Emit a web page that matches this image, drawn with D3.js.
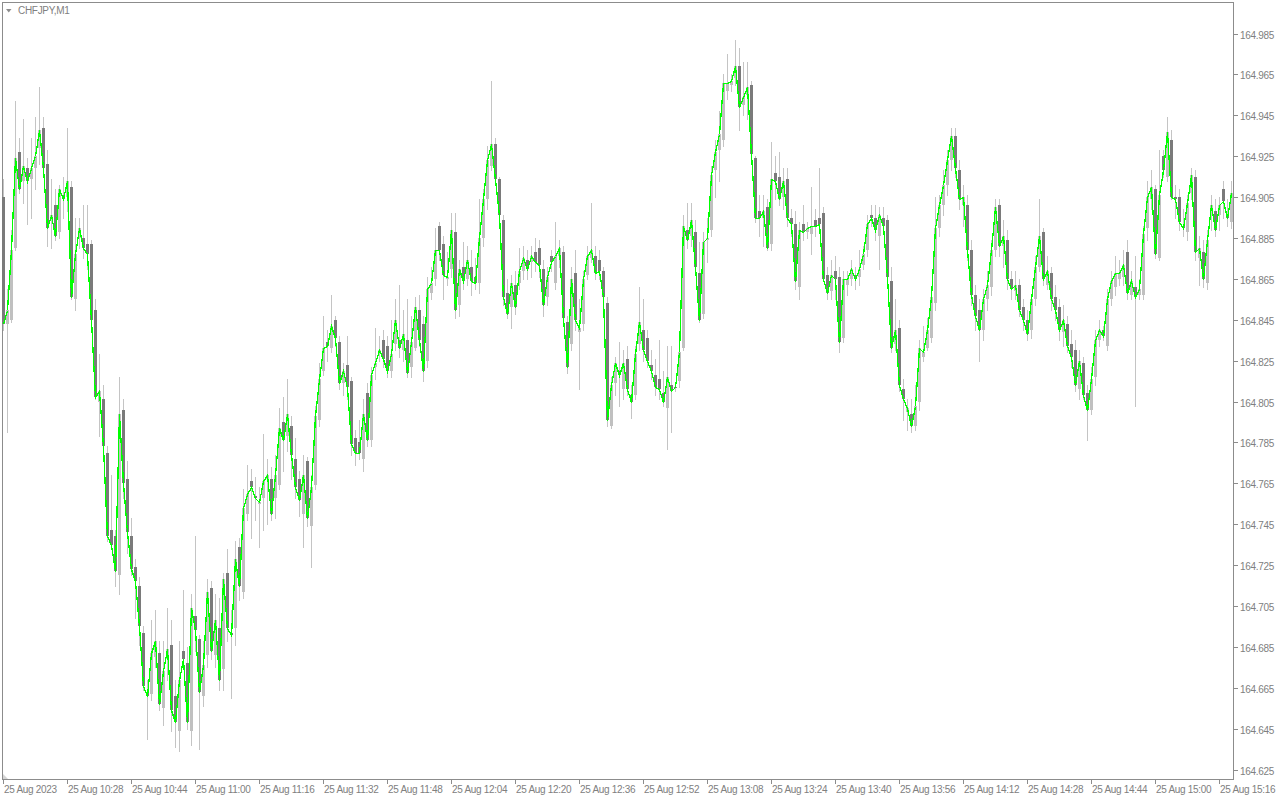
<!DOCTYPE html>
<html><head><meta charset="utf-8">
<script src="https://cdn.jsdelivr.net/npm/d3@7"></script>
<style>html,body{margin:0;padding:0;background:#fff;}svg{display:block;}</style>
</head><body>
<svg id="chart" width="1280" height="800"></svg>
<script>
const chartTitle = "CHFJPY,M1";
const timeLabels = ["25 Aug 2023","25 Aug 10:28","25 Aug 10:44","25 Aug 11:00","25 Aug 11:16","25 Aug 11:32","25 Aug 11:48","25 Aug 12:04","25 Aug 12:20","25 Aug 12:36","25 Aug 12:52","25 Aug 13:08","25 Aug 13:24","25 Aug 13:40","25 Aug 13:56","25 Aug 14:12","25 Aug 14:28","25 Aug 14:44","25 Aug 15:00","25 Aug 15:16"];
const labelEvery = 16;
const priceTicks = [164.985,164.965,164.945,164.925,164.905,164.885,164.865,164.845,164.825,164.805,164.785,164.765,164.745,164.725,164.705,164.685,164.665,164.645,164.625];

const open = [
164.905,164.843,164.845,164.880,164.927,164.913,164.919,164.914,164.919,164.929,164.939,164.921,164.894,164.901,164.888,164.906,164.905,164.910,164.855,164.885,
164.885,164.882,164.882,164.850,164.805,164.806,164.780,164.742,164.739,164.720,164.801,164.767,164.739,164.724,164.715,164.692,164.663,164.662,164.680,164.682,
164.655,164.679,164.686,164.661,164.644,164.683,164.677,164.644,164.700,164.689,164.661,164.681,164.714,164.681,164.694,164.674,164.721,164.692,164.694,164.734,
164.712,164.750,164.766,164.759,164.755,164.758,164.767,164.767,164.758,164.764,164.795,164.788,164.793,164.777,164.767,164.750,164.776,164.744,164.764,164.796,
164.820,164.834,164.831,164.845,164.834,164.814,164.823,164.815,164.787,164.785,164.777,164.809,164.786,164.822,164.829,164.835,164.832,164.820,164.833,164.835,
164.830,164.835,164.822,164.831,164.850,164.843,164.825,164.858,164.865,164.891,164.882,164.865,164.870,164.888,164.852,164.871,164.865,164.871,164.866,164.863,
164.885,164.904,164.920,164.931,164.914,164.894,164.858,164.851,164.862,164.863,164.869,164.874,164.873,164.878,164.880,164.870,164.856,164.876,164.863,164.876,
164.878,164.844,164.833,164.868,164.839,164.843,164.867,164.875,164.876,164.874,164.869,164.853,164.793,164.814,164.820,164.811,164.826,164.808,164.808,164.833,
164.840,164.836,164.823,164.818,164.816,164.809,164.802,164.813,164.812,164.815,164.831,164.889,164.886,164.888,164.868,164.848,164.884,164.889,164.918,164.928,
164.933,164.957,164.960,164.963,164.969,164.950,164.955,164.960,164.924,164.898,164.895,164.900,164.882,164.917,164.915,164.905,164.914,164.895,164.892,164.861,
164.892,164.888,164.887,164.894,164.895,164.897,164.867,164.859,164.869,164.866,164.836,164.862,164.865,164.867,164.866,164.872,164.879,164.896,164.895,164.886,
164.895,164.894,164.864,164.833,164.841,164.811,164.800,164.799,164.793,164.805,164.827,164.831,164.836,164.853,164.890,164.901,164.911,164.923,164.935,164.918,
164.901,164.901,164.879,164.857,164.850,164.840,164.855,164.861,164.879,164.901,164.881,164.884,164.865,164.859,164.862,164.851,164.845,164.840,164.855,164.871,
164.888,164.862,164.868,164.856,164.851,164.839,164.843,164.833,164.830,164.811,164.824,164.809,164.801,164.817,164.835,164.840,164.832,164.855,164.861,164.865,
164.866,164.878,164.857,164.861,164.857,164.857,164.890,164.904,164.909,164.875,164.925,164.915,164.933,164.905,164.905,164.891,164.888,164.907,164.915,164.875,
164.878,164.863,164.898,164.898,164.896,164.909,164.896,164.893];

const high = [
164.914,164.860,164.889,164.952,164.934,164.943,164.924,164.934,164.944,164.959,164.944,164.928,164.914,164.909,164.911,164.915,164.939,164.913,164.895,164.895,
164.901,164.901,164.884,164.855,164.828,164.813,164.783,164.769,164.742,164.817,164.806,164.776,164.748,164.728,164.719,164.695,164.669,164.698,164.703,164.688,
164.688,164.704,164.698,164.669,164.688,164.713,164.685,164.711,164.739,164.691,164.688,164.718,164.717,164.711,164.709,164.721,164.733,164.703,164.737,164.738,
164.762,164.774,164.772,164.768,164.763,164.789,164.777,164.773,164.779,164.802,164.807,164.816,164.798,164.787,164.771,164.779,164.778,164.769,164.803,164.824,
164.847,164.840,164.857,164.847,164.837,164.824,164.837,164.817,164.791,164.796,164.806,164.814,164.822,164.841,164.837,164.840,164.837,164.845,164.855,164.862,
164.850,164.855,164.847,164.856,164.857,164.847,164.866,164.871,164.890,164.893,164.886,164.878,164.897,164.897,164.874,164.883,164.881,164.879,164.875,164.904,
164.909,164.930,164.962,164.934,164.915,164.896,164.865,164.867,164.869,164.880,164.881,164.879,164.881,164.885,164.884,164.874,164.871,164.879,164.893,164.884,
164.881,164.847,164.871,164.879,164.855,164.869,164.881,164.902,164.881,164.879,164.871,164.856,164.817,164.827,164.834,164.830,164.832,164.813,164.832,164.861,
164.855,164.840,164.830,164.826,164.835,164.820,164.832,164.832,164.814,164.834,164.896,164.902,164.902,164.894,164.883,164.888,164.895,164.920,164.933,164.947,
164.965,164.975,164.965,164.982,164.978,164.971,164.971,164.962,164.925,164.906,164.906,164.904,164.932,164.925,164.927,164.919,164.919,164.899,164.898,164.893,
164.901,164.893,164.910,164.899,164.919,164.900,164.871,164.874,164.876,164.871,164.869,164.869,164.874,164.871,164.879,164.881,164.896,164.901,164.901,164.900,
164.900,164.896,164.871,164.855,164.845,164.816,164.806,164.806,164.813,164.835,164.842,164.846,164.860,164.905,164.906,164.918,164.928,164.939,164.939,164.923,
164.911,164.906,164.884,164.862,164.855,164.860,164.869,164.884,164.904,164.904,164.894,164.889,164.869,164.869,164.865,164.855,164.850,164.857,164.876,164.904,
164.890,164.876,164.871,164.862,164.855,164.852,164.847,164.840,164.835,164.830,164.827,164.813,164.822,164.840,164.845,164.842,164.860,164.869,164.876,164.874,
164.879,164.884,164.869,164.876,164.865,164.891,164.913,164.918,164.911,164.928,164.928,164.944,164.938,164.911,164.909,164.899,164.906,164.919,164.918,164.886,
164.884,164.889,164.906,164.904,164.905,164.913,164.904,164.913];

const low = [
164.840,164.790,164.844,164.879,164.907,164.902,164.892,164.895,164.909,164.921,164.916,164.881,164.880,164.884,164.885,164.895,164.898,164.855,164.850,164.880,
164.875,164.870,164.843,164.806,164.788,164.781,164.737,164.734,164.715,164.711,164.758,164.731,164.720,164.699,164.686,164.664,164.640,164.659,164.675,164.654,
164.647,164.669,164.644,164.636,164.634,164.674,164.645,164.637,164.683,164.635,164.656,164.675,164.679,164.675,164.664,164.664,164.688,164.660,164.686,164.708,
164.709,164.747,164.738,164.747,164.734,164.742,164.745,164.747,164.748,164.762,164.771,164.781,164.767,164.758,164.749,164.734,164.744,164.724,164.762,164.793,
164.818,164.825,164.829,164.832,164.811,164.808,164.806,164.779,164.774,164.777,164.771,164.783,164.783,164.816,164.825,164.822,164.817,164.817,164.830,164.827,
164.825,164.817,164.817,164.830,164.832,164.815,164.822,164.855,164.862,164.874,164.855,164.862,164.866,164.846,164.847,164.860,164.862,164.857,164.860,164.858,
164.881,164.899,164.918,164.911,164.894,164.852,164.846,164.841,164.848,164.860,164.865,164.865,164.866,164.869,164.866,164.847,164.852,164.869,164.860,164.871,
164.842,164.819,164.830,164.840,164.811,164.840,164.865,164.873,164.865,164.865,164.852,164.793,164.792,164.808,164.803,164.806,164.808,164.797,164.806,164.830,
164.825,164.822,164.816,164.808,164.806,164.803,164.782,164.790,164.810,164.812,164.830,164.880,164.881,164.868,164.844,164.846,164.873,164.886,164.905,164.913,
164.930,164.953,164.957,164.960,164.938,164.945,164.943,164.925,164.893,164.886,164.881,164.879,164.879,164.904,164.901,164.899,164.891,164.886,164.860,164.855,
164.884,164.885,164.877,164.886,164.889,164.864,164.855,164.855,164.855,164.829,164.834,164.857,164.862,164.860,164.862,164.870,164.876,164.891,164.884,164.870,
164.889,164.865,164.829,164.830,164.810,164.796,164.791,164.790,164.791,164.801,164.825,164.830,164.834,164.850,164.886,164.896,164.906,164.918,164.915,164.899,
164.891,164.874,164.852,164.840,164.825,164.835,164.850,164.857,164.876,164.876,164.871,164.860,164.855,164.855,164.847,164.840,164.835,164.836,164.852,164.869,
164.862,164.860,164.850,164.845,164.835,164.832,164.829,164.822,164.810,164.806,164.806,164.786,164.799,164.813,164.832,164.835,164.830,164.852,164.857,164.862,
164.862,164.855,164.855,164.803,164.855,164.855,164.884,164.899,164.875,164.874,164.915,164.913,164.904,164.895,164.889,164.886,164.884,164.904,164.874,164.862,
164.861,164.860,164.889,164.886,164.889,164.895,164.891,164.890];

const close = [
164.843,164.850,164.879,164.924,164.909,164.920,164.913,164.919,164.925,164.938,164.919,164.890,164.896,164.886,164.909,164.904,164.913,164.856,164.877,164.890,
164.880,164.877,164.845,164.807,164.810,164.783,164.739,164.735,164.722,164.799,164.765,164.741,164.723,164.717,164.695,164.666,164.661,164.682,164.688,164.657,
164.673,164.684,164.654,164.648,164.669,164.679,164.648,164.704,164.693,164.663,164.676,164.712,164.683,164.698,164.669,164.718,164.694,164.691,164.728,164.715,
164.753,164.760,164.763,164.758,164.756,164.766,164.769,164.750,164.769,164.792,164.786,164.799,164.779,164.763,164.757,164.769,164.748,164.763,164.798,164.816,
164.831,164.832,164.842,164.836,164.814,164.820,164.812,164.784,164.780,164.780,164.799,164.786,164.818,164.824,164.830,164.826,164.820,164.828,164.845,164.831,
164.838,164.819,164.834,164.851,164.835,164.820,164.860,164.863,164.879,164.879,164.867,164.866,164.889,164.850,164.870,164.864,164.874,164.864,164.863,164.885,
164.904,164.923,164.931,164.914,164.896,164.856,164.848,164.863,164.851,164.869,164.875,164.870,164.876,164.873,164.872,164.852,164.866,164.873,164.876,164.880,
164.846,164.822,164.865,164.845,164.841,164.865,164.876,164.879,164.868,164.869,164.856,164.796,164.813,164.824,164.818,164.824,164.811,164.805,164.828,164.844,
164.830,164.825,164.820,164.812,164.811,164.805,164.817,164.810,164.812,164.829,164.891,164.884,164.894,164.871,164.845,164.883,164.885,164.916,164.927,164.936,
164.961,164.961,164.962,164.969,164.949,164.954,164.959,164.926,164.895,164.895,164.898,164.880,164.914,164.913,164.904,164.913,164.895,164.892,164.864,164.889,
164.888,164.890,164.891,164.891,164.892,164.865,164.858,164.867,164.865,164.834,164.865,164.865,164.870,164.865,164.870,164.877,164.892,164.895,164.889,164.896,
164.891,164.866,164.831,164.840,164.813,164.806,164.802,164.793,164.803,164.831,164.829,164.840,164.856,164.890,164.901,164.911,164.923,164.935,164.919,164.904,
164.905,164.879,164.857,164.847,164.840,164.855,164.862,164.879,164.900,164.881,164.886,164.865,164.860,164.862,164.850,164.845,164.838,164.855,164.871,164.886,
164.865,164.869,164.855,164.850,164.840,164.845,164.832,164.827,164.813,164.825,164.808,164.801,164.816,164.835,164.840,164.837,164.855,164.864,164.868,164.868,
164.872,164.858,164.864,164.856,164.860,164.887,164.905,164.910,164.877,164.906,164.918,164.937,164.905,164.904,164.893,164.890,164.902,164.916,164.878,164.880,
164.865,164.884,164.901,164.889,164.901,164.903,164.895,164.907];

const svg = d3.select("#chart");
const W = 1280, H = 800;
const frame = {left: 2.5, top: 2.5, right: 1233.5, bottom: 779.5};
const axisColor = "#8c8c8c";
const textColor = "#808080";
const bullColor = "#c0c0c0";
const bearColor = "#7a7a7a";
const wickColor = "#c4c4c4";
const lineColor = "#00ff00";
const font = "'Liberation Sans', Arial, sans-serif";

const n = close.length;
const x = d3.scaleLinear().domain([0, 307]).range([3, 1231]);
const y = d3.scaleLinear().domain([164.625, 164.985]).range([769.5, 33.5]);

svg.append("rect").attr("width", W).attr("height", H).attr("fill", "#fff");

// frame
svg.append("rect")
  .attr("x", frame.left).attr("y", frame.top)
  .attr("width", frame.right - frame.left).attr("height", frame.bottom - frame.top)
  .attr("fill", "none").attr("stroke", axisColor).attr("stroke-width", 1)
  .attr("shape-rendering", "crispEdges");

// corner mark
svg.append("path").attr("d", "M3,774L3,779L8,779Z").attr("fill", "#d4d4d4");

const idx = d3.range(n);
const g = svg.append("g").attr("shape-rendering", "crispEdges");

// wicks
g.selectAll("line.wick").data(idx).join("line")
  .attr("class", "wick")
  .attr("x1", i => x(i) + 0.5).attr("x2", i => x(i) + 0.5)
  .attr("y1", i => Math.round(y(high[i])))
  .attr("y2", i => Math.round(y(low[i])) + 1)
  .attr("stroke", wickColor).attr("stroke-width", 1);

// bodies
g.selectAll("rect.body").data(idx).join("rect")
  .attr("class", "body")
  .attr("x", i => x(i) - 1)
  .attr("width", 3)
  .attr("y", i => Math.round(y(Math.max(open[i], close[i]))))
  .attr("height", i => Math.max(1, Math.round(y(Math.min(open[i], close[i]))) - Math.round(y(Math.max(open[i], close[i])))))
  .attr("fill", i => close[i] > open[i] ? bullColor : bearColor);

// green line
const line = d3.line().x(i => x(i) + 0.5).y(i => Math.round(y(close[i])) + 0.5);
svg.append("path").datum(idx)
  .attr("d", line)
  .attr("fill", "none").attr("stroke", lineColor).attr("stroke-width", 1.3)
  .attr("shape-rendering", "crispEdges")
  .attr("stroke-linejoin", "miter");

// price axis
const pa = svg.append("g");
priceTicks.forEach(p => {
  const yy = Math.round(y(p)) + 0.5;
  pa.append("line").attr("x1", 1233.5).attr("x2", 1237.5).attr("y1", yy).attr("y2", yy)
    .attr("stroke", axisColor).attr("shape-rendering", "crispEdges");
  pa.append("text").attr("x", 1240).attr("y", yy + 4.5)
    .attr("font-family", font).attr("font-size", 10).attr("letter-spacing", -0.3)
    .attr("fill", textColor).text(p.toFixed(3));
});

// time axis
const ta = svg.append("g");
timeLabels.forEach((lab, k) => {
  const xx = x(k * labelEvery) + 0.5;
  ta.append("line").attr("x1", xx).attr("x2", xx).attr("y1", 779.5).attr("y2", 784)
    .attr("stroke", axisColor).attr("shape-rendering", "crispEdges");
  ta.append("text").attr("x", xx + 0.5).attr("y", 793)
    .attr("font-family", font).attr("font-size", 10).attr("letter-spacing", -0.3)
    .attr("fill", textColor).text(lab);
});

// title
svg.append("path").attr("d", "M6,9L11.5,9L8.75,12.5Z").attr("fill", "#8c8c8c");
svg.append("text").attr("x", 18).attr("y", 14)
  .attr("font-family", font).attr("font-size", 10).attr("letter-spacing", -0.3)
  .attr("fill", textColor).text(chartTitle);
</script>
</body></html>
